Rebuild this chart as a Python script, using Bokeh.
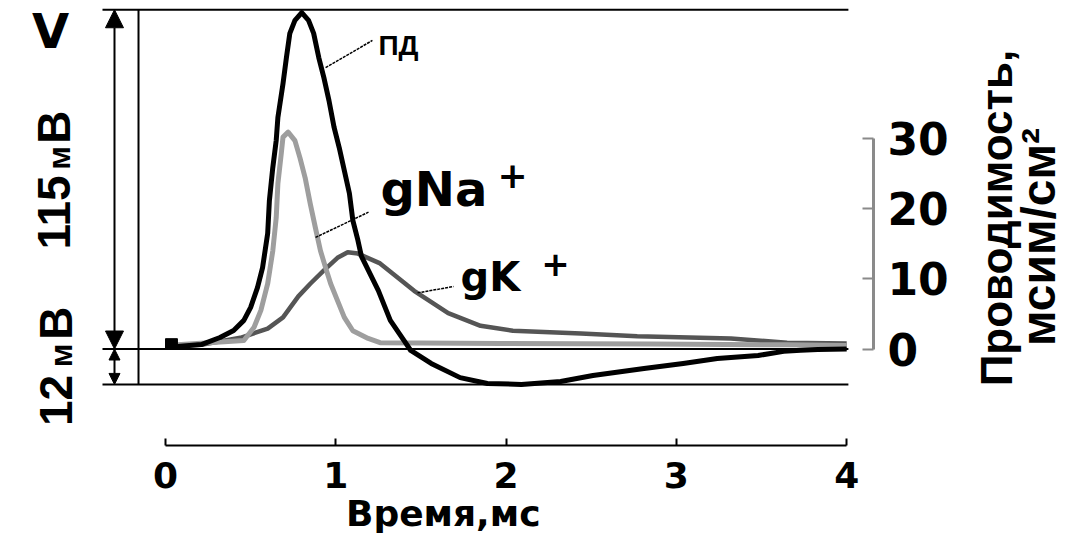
import math
from bokeh.plotting import figure
from bokeh.layouts import row
from bokeh.models import Range1d, LinearAxis, FixedTicker, Label, Arrow, NormalHead
from bokeh.embed import file_html
from bokeh.resources import INLINE

# ---------------- data ----------------
# action potential (ПД), mV relative to rest
time_ap = [0.0, 0.21, 0.32, 0.40, 0.46, 0.50, 0.54, 0.57, 0.60, 0.61, 0.63, 0.65, 0.66,
           0.69, 0.71, 0.73, 0.76, 0.80, 0.84, 0.87, 0.90, 0.93, 0.96, 0.99, 1.02, 1.05,
           1.08, 1.10, 1.13, 1.15, 1.25, 1.32, 1.40, 1.44, 1.56, 1.73, 1.89, 2.09, 2.32,
           2.51, 2.81, 3.04, 3.24, 3.48, 3.63, 3.73, 3.83, 4.0]
voltage_ap = [0.5, 1.5, 3.9, 6.3, 9.7, 14.1, 20.8, 27.6, 39.2, 50.3, 61.5, 70.7, 78.5,
              90.0, 98.8, 107.0, 111.4, 114.0, 111.4, 107.0, 98.8, 92.0, 84.2, 75.1, 68.3, 60.5,
              52.7, 43.6, 36.8, 31.5, 19.8, 9.7, 2.9, -0.5, -4.9, -9.7, -11.7, -12.0, -11.0,
              -9.0, -6.6, -4.9, -3.2, -2.2, -0.8, -0.4, -0.2, 0.0]

# sodium conductance gNa+, mS/cm2
time_na = [0.0, 0.46, 0.52, 0.56, 0.60, 0.63, 0.65, 0.66, 0.68, 0.69, 0.72, 0.76, 0.79,
           0.82, 0.85, 0.88, 0.91, 0.94, 0.97, 1.01, 1.05, 1.10, 1.19, 1.26, 1.97, 2.85,
           3.65, 4.0]
g_na = [0.5, 1.2, 3.1, 5.5, 9.3, 14.0, 18.7, 23.6, 27.9, 30.2, 30.9, 29.7, 27.2,
        24.4, 20.7, 17.3, 14.0, 11.6, 9.3, 6.9, 4.5, 2.6, 1.5, 0.9, 0.8, 0.7,
        0.6, 0.5]

# potassium conductance gK+, mS/cm2
time_k = [0.0, 0.21, 0.44, 0.60, 0.69, 0.78, 0.85, 0.93, 1.01, 1.07, 1.13, 1.26, 1.46,
          1.66, 1.85, 2.04, 2.44, 2.77, 3.32, 3.65, 4.0]
g_k = [0.5, 0.6, 1.6, 2.9, 4.5, 7.5, 9.3, 11.2, 13.0, 13.8, 13.6, 12.2, 8.3,
       5.1, 3.3, 2.6, 2.2, 1.8, 1.5, 0.9, 0.8]

# stimulus mark
stim_t = [0.0, 0.07]
stim_v = [0.0, 3.5]

time_ticks = [0, 1, 2, 3, 4]
g_ticks = [0, 10, 20, 30]
v_levels = [115, 0, -12]          # peak amplitude, rest, undershoot

# ---------------- main figure ----------------
W_MAIN, W_SIDE, H = 955, 111, 540
p = figure(width=W_MAIN, height=H, output_backend="svg", toolbar_location=None,
           x_range=Range1d(-0.9689, 4.1574), y_range=Range1d(-32.71, 118.14),
           y_axis_location=None,
           min_border_left=0, min_border_top=0, min_border_right=82, min_border_bottom=95)
p.extra_y_ranges = {"g": Range1d(-13.752, 49.665)}
p.outline_line_color = None
p.xgrid.visible = False
p.ygrid.visible = False
p.background_fill_color = "white"

SANS = "Liberation Sans"
WIDE = "DejaVu Sans"
NB = "\u00a0"

# bottom axis
xa = p.xaxis[0]
xa.ticker = FixedTicker(ticks=time_ticks)
xa.bounds = (0, 4)
xa.axis_line_width = 2
xa.axis_line_color = "black"
xa.major_tick_in = 7
xa.major_tick_out = 0
xa.major_tick_line_width = 2
xa.minor_tick_line_color = None
xa.major_label_text_font = WIDE
xa.major_label_text_font_style = "bold"
xa.major_label_text_font_size = "36px"
xa.major_label_text_color = "black"
xa.major_label_standoff = 16
xa.axis_label = NB + "Время,мс"
xa.axis_label_text_font = WIDE
xa.axis_label_text_font_style = "bold"
xa.axis_label_text_font_size = "36px"
xa.axis_label_text_color = "black"
xa.axis_label_standoff = 2

# right conductance axis
ra = LinearAxis(y_range_name="g", ticker=FixedTicker(ticks=g_ticks), bounds=(0, 30),
                axis_line_color="#8a8a8a", axis_line_width=3,
                major_tick_in=11, major_tick_out=0,
                major_tick_line_color="#8a8a8a", major_tick_line_width=2,
                minor_tick_line_color=None,
                major_label_text_font=WIDE, major_label_text_font_style="bold",
                major_label_text_font_size="44px", major_label_text_color="black",
                major_label_standoff=14)
p.add_layout(ra, "right")

# reference lines
XL, XR = -0.37, 4.01
p.segment(x0=[XL] * 3, y0=v_levels, x1=[XR] * 3, y1=v_levels,
          line_color="black", line_width=2)
p.segment(x0=[-0.1585], y0=[v_levels[2]], x1=[-0.1585], y1=[v_levels[0]],
          line_color="black", line_width=2)

# amplitude arrows
p.add_layout(Arrow(x_start=-0.2995, y_start=v_levels[1], x_end=-0.2995, y_end=v_levels[0],
                   start=NormalHead(size=18, fill_color="black", line_color="black"),
                   end=NormalHead(size=18, fill_color="black", line_color="black"),
                   line_width=2, line_color="black"))
p.add_layout(Arrow(x_start=-0.2995, y_start=v_levels[1], x_end=-0.2995, y_end=v_levels[2],
                   start=NormalHead(size=11, fill_color="black", line_color="black"),
                   end=NormalHead(size=11, fill_color="black", line_color="black"),
                   line_width=2, line_color="black"))

# curves
p.line(time_k, g_k, y_range_name="g", line_color="#555555", line_width=4.5, line_join="round")
p.line(time_na, g_na, y_range_name="g", line_color="#9e9e9e", line_width=5, line_join="round")
p.line(time_ap, voltage_ap, line_color="black", line_width=5, line_join="round")
p.quad(left=[stim_t[0]], right=[stim_t[1]], bottom=[stim_v[0]], top=[stim_v[1]],
       fill_color="black", line_color="black")

# leader lines
p.segment(x0=[0.94], y0=[95.4], x1=[1.215], y1=[104.6], line_color="black",
          line_width=1.5, line_dash="3 1")
p.segment(x0=[0.881, 1.480], y0=[15.9, 8.0], x1=[1.192, 1.691], y1=[19.5, 8.9],
          y_range_name="g", line_color="black", line_width=1.5, line_dash="3 1")


def lab(fig, x, y, text, size, font=WIDE, angle=0.0, align="left", rng=None):
    kw = dict(x=x, y=y, text=text, text_font=font, text_font_size=f"{size}px",
              text_font_style="bold", angle=angle, text_align=align,
              text_baseline="middle", text_color="black")
    if rng:
        kw["y_range_name"] = rng
    fig.add_layout(Label(**kw))


R = math.pi / 2
# left annotations
lab(p, -0.6753, 107.9, "V", 48, align="center")
lab(p, -0.6524, 46.27, "115", 46, font=SANS, angle=R, align="center")
lab(p, -0.6236, 64.75, "м", 32, font=SANS, angle=R, align="center")
lab(p, -0.6524, 75.25, "В", 46, font=SANS, angle=R, align="center")
lab(p, -0.6406, -17.46, "12", 46, font=SANS, angle=R, align="center")
lab(p, -0.6118, -2.20, "м", 32, font=SANS, angle=R, align="center")
lab(p, -0.6406, 8.81, "В", 46, font=SANS, angle=R, align="center")

# curve labels
lab(p, 1.2507, 102.8, "ПД", 28, font=SANS)
lab(p, 1.2625, 22.84, "gNa", 48, rng="g")
lab(p, 2.0376, 24.73, "+", 36, align="center", rng="g")
lab(p, 1.7322, 10.33, "gK", 40, rng="g")
lab(p, 2.290, 12.18, "+", 34, align="center", rng="g")

# ---------------- side panel with the conductance axis title ----------------
# its frame is given the same height as the main frame (bottom border 95)
s = figure(width=W_SIDE, height=H, output_backend="svg", toolbar_location=None,
           x_range=Range1d(0, W_SIDE), y_range=Range1d(95, H),
           x_axis_location=None, y_axis_location=None,
           min_border_left=0, min_border_right=0, min_border_top=0, min_border_bottom=95)
s.outline_line_color = None
s.grid.visible = False
s.background_fill_color = "white"
lab(s, 40.8, 322.5, "Проводимость,", 44, font=SANS, angle=R, align="center")
lab(s, 83.4, 303.5, "мсим/см²", 48, font=SANS, angle=R, align="center")

layout = row(p, s)
open("out.html", "w").write(file_html(layout, INLINE))
